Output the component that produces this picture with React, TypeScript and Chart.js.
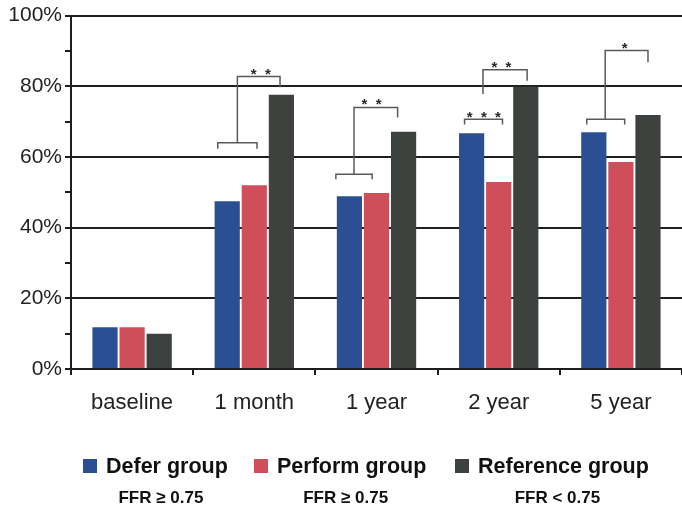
import React, { useEffect, useRef } from "react";
import { Chart, registerables } from "chart.js";

Chart.register(...registerables);

const categories = ["baseline", "1 month", "1 year", "2 year", "5 year"];
const seriesNames = ["Defer group", "Perform group", "Reference group"];
const seriesSubtitles = ["FFR \u2265 0.75", "FFR \u2265 0.75", "FFR < 0.75"];
const seriesColors = ["#2B4F93", "#CF4E59", "#3D423F"];
const deferValues = [11.8, 47.5, 48.9, 66.7, 67.0];
const performValues = [11.8, 52.0, 49.8, 52.9, 58.6];
const referenceValues = [10.0, 77.6, 67.1, 79.9, 71.9];
const yTickValues = [0, 20, 40, 60, 80, 100];

// significance brackets, in category index / bar-slot position / percent units
const lowerBrackets = [
  { cat: 1, y: 64.0, drop: 62.3, from: -0.35, to: 1.1 },
  { cat: 2, y: 55.1, drop: 53.7, from: -0.5, to: 0.84 },
  { cat: 3, y: 70.7, drop: 69.2, from: -0.26, to: 1.14 },
  { cat: 4, y: 70.7, drop: 69.2, from: -0.26, to: 1.14 },
];
const upperBrackets = [
  { cat: 1, y: 82.8, leftDrop: 64.0, rightDrop: 79.7, from: 0.375, to: 1.95 },
  { cat: 2, y: 74.0, leftDrop: 55.1, rightDrop: 71.2, from: 0.17, to: 1.78 },
  { cat: 3, y: 84.7, leftDrop: 77.8, rightDrop: 81.6, from: 0.42, to: 2.05 },
  { cat: 4, y: 90.1, leftDrop: 70.7, rightDrop: 86.8, from: 0.42, to: 2.0 },
];
const starMarks = [
  { cat: 1, p: 1.24, y: 84.5, text: "*  *" },
  { cat: 2, p: 0.82, y: 76.0, text: "*  *" },
  { cat: 3, p: 0.45, y: 72.3, text: "*  *  *" },
  { cat: 3, p: 1.1, y: 86.5, text: "*  *" },
  { cat: 4, p: 1.14, y: 91.7, text: "*" },
];

const AXIS = "#1e1e1e";
const FONT = "'Liberation Sans', Arial, sans-serif";

const bracketPlugin = {
  id: "sigBrackets",
  afterDatasetsDraw(chart: any) {
    const ctx = chart.ctx;
    const ys = chart.scales.y;
    const m0 = chart.getDatasetMeta(0).data;
    const m1 = chart.getDatasetMeta(1).data;
    const xAt = (cat: number, p: number) => m0[cat].x + p * (m1[cat].x - m0[cat].x);
    const Y = (v: number) => ys.getPixelForValue(v);
    ctx.save();
    ctx.strokeStyle = "#5a5a5a";
    ctx.lineWidth = 1.5;
    ctx.lineJoin = "miter";
    for (const b of lowerBrackets) {
      const x1 = xAt(b.cat, b.from), x2 = xAt(b.cat, b.to);
      ctx.beginPath();
      ctx.moveTo(x1, Y(b.drop));
      ctx.lineTo(x1, Y(b.y));
      ctx.lineTo(x2, Y(b.y));
      ctx.lineTo(x2, Y(b.drop));
      ctx.stroke();
    }
    for (const b of upperBrackets) {
      const x1 = xAt(b.cat, b.from), x2 = xAt(b.cat, b.to);
      ctx.beginPath();
      ctx.moveTo(x1, Y(b.leftDrop));
      ctx.lineTo(x1, Y(b.y));
      ctx.lineTo(x2, Y(b.y));
      ctx.lineTo(x2, Y(b.rightDrop));
      ctx.stroke();
    }
    ctx.fillStyle = "#2a2a2a";
    ctx.font = `bold 15px ${FONT}`;
    ctx.textAlign = "center";
    ctx.textBaseline = "alphabetic";
    for (const s of starMarks) {
      ctx.fillText(s.text, xAt(s.cat, s.p), Y(s.y) + 8.5);
    }
    ctx.restore();
  },
};

const legendPlugin = {
  id: "customLegend",
  afterDraw(chart: any) {
    const ctx = chart.ctx;
    const starts = [83, 254, 455];
    ctx.save();
    chart.data.datasets.forEach((ds: any, i: number) => {
      const x = starts[i];
      ctx.fillStyle = ds.backgroundColor;
      ctx.fillRect(x, 459, 14, 14);
      ctx.fillStyle = "#111";
      ctx.font = `bold 21.5px ${FONT}`;
      ctx.textAlign = "left";
      ctx.textBaseline = "alphabetic";
      ctx.fillText(ds.label, x + 23, 473);
      const w = ctx.measureText(ds.label).width;
      ctx.font = `bold 17px ${FONT}`;
      ctx.textAlign = "center";
      ctx.fillText(seriesSubtitles[i], x + 23 + w / 2 - 6, 503);
    });
    ctx.restore();
  },
};

export default function App() {
  const ref = useRef<HTMLCanvasElement | null>(null);
  useEffect(() => {
    if (!ref.current) return;
    const values = [deferValues, performValues, referenceValues];
    const chart = new Chart(ref.current, {
      type: "bar",
      data: {
        labels: categories,
        datasets: seriesNames.map((name, i) => ({
          label: name,
          data: values[i],
          backgroundColor: seriesColors[i],
          borderWidth: 0,
          categoryPercentage: 0.665,
          barPercentage: 0.93,
        })),
      },
      options: {
        animation: false,
        responsive: false,
        layout: { padding: { top: 15, left: 0, right: 0, bottom: 0 } },
        plugins: { legend: { display: false }, tooltip: { enabled: false } },
        scales: {
          x: {
            offset: true,
            grid: {
              offset: true,
              drawOnChartArea: false,
              drawTicks: true,
              tickLength: 6,
              color: AXIS,
              lineWidth: 2,
            },
            border: { display: true, color: AXIS, width: 2 },
            ticks: { color: "#222", font: { family: FONT, size: 22 }, padding: 15 },
            afterFit: (s: any) => { s.height = 137; },
          },
          y: {
            min: 0,
            max: 100,
            ticks: {
              stepSize: 10,
              color: "#222",
              font: { family: FONT, size: 21 },
              padding: 3,
              callback: (v: any) => (yTickValues.includes(Number(v)) ? `${v}%` : ""),
            },
            grid: {
              color: (c: any) => (yTickValues.includes(c.tick?.value) ? AXIS : "rgba(0,0,0,0)"),
              tickColor: AXIS,
              lineWidth: 2,
              tickLength: 6,
            },
            border: { display: true, color: AXIS, width: 2 },
            afterFit: (s: any) => { s.width = 71; },
          },
        },
      },
      plugins: [bracketPlugin, legendPlugin],
    });
    return () => chart.destroy();
  }, []);
  return (
    <div style={{ position: "fixed", left: 0, top: 0, width: 682, height: 506, background: "#fff" }}>
      <canvas ref={ref} width={682} height={506} style={{ display: "block" }} />
    </div>
  );
}
